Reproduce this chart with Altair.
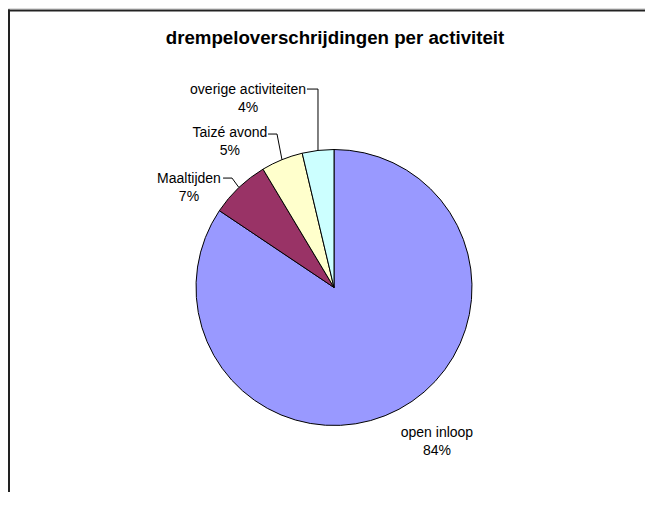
import math
import altair as alt
import pandas as pd

# ---------------- data ----------------
categories = ["open inloop", "Maaltijden", "Taizé avond", "overige activiteiten"]
shares = [84.4, 7.0, 4.9, 3.7]          # percent of threshold exceedances
colors = ["#9999FF", "#993366", "#FFFFCC", "#CCFFFF"]
title_text = "drempeloverschrijdingen per activiteit"

# ---------------- layout (not data) ----------------
W, H = 637, 484          # view size in px
R = 138                  # pie radius in px
CX, CY = 326, 279.5      # pie centre inside the view, px
FONT = "Liberation Sans"

# label block centres, in pie-radius units relative to the centre (y up)
label_pos = [(0.746, -1.054), (-1.051, 0.786), (-0.754, 1.116), (-0.623, 1.428)]
# leader lines: (end of horizontal stub x, elbow x or None for vertical, elbow y)
leaders = [None, (-0.804, -0.739, 0.793), (-0.478, -0.413, 1.112), (-0.196, None, 1.438)]

xs = alt.Scale(domain=[-CX / R, (W - CX) / R], nice=False, zero=False)
ys = alt.Scale(domain=[-(H - CY) / R, CY / R], nice=False, zero=False)

total = sum(shares)
pie_df = pd.DataFrame({"category": categories, "share": shares,
                       "order": list(range(len(categories)))})

label_rows, line_rows = [], []
cum = 0.0
for i, (cat, v) in enumerate(zip(categories, shares)):
    mid = (cum + v / 2) / total * 2 * math.pi
    cum += v
    ax, ay = math.sin(mid), math.cos(mid)
    lx, ly = label_pos[i]
    label_rows.append({"category": cat, "x": lx, "y": ly,
                       "label": f"{cat}\n{round(v / total * 100)}%"})
    if leaders[i] is not None:
        ex, bx, by = leaders[i]
        if bx is None:
            bx = ax
        for k, (px, py) in enumerate([(ex, by), (bx, by), (ax, ay)]):
            line_rows.append({"category": cat, "k": k, "x": px, "y": py})

label_df = pd.DataFrame(label_rows)
line_df = pd.DataFrame(line_rows)
one = pd.DataFrame({"t": [title_text]})

arc = alt.Chart(pie_df).mark_arc(radius=R, stroke="black", strokeWidth=1).encode(
    theta=alt.Theta("share:Q", stack=True),
    order=alt.Order("order:Q"),
    color=alt.Color("category:N", scale=alt.Scale(domain=categories, range=colors), legend=None),
    x=alt.XDatum(0.0, type="quantitative", scale=xs, axis=None),
    y=alt.YDatum(0.0, type="quantitative", scale=ys, axis=None),
)

lines = alt.Chart(line_df).mark_line(color="black", strokeWidth=1).encode(
    x=alt.X("x:Q", scale=xs, axis=None),
    y=alt.Y("y:Q", scale=ys, axis=None),
    detail="category:N",
    order="k:Q",
)

labels = alt.Chart(label_df).mark_text(
    font=FONT, fontSize=14, color="black", align="center", baseline="middle",
    lineBreak="\n", lineHeight=18,
).encode(
    x=alt.X("x:Q", scale=xs, axis=None),
    y=alt.Y("y:Q", scale=ys, axis=None),
    text="label:N",
)

title = alt.Chart(one).mark_text(
    font=FONT, fontSize=18.7, fontWeight="bold", color="black",
    align="center", baseline="alphabetic",
).encode(text="t:N", x=alt.value(327), y=alt.value(36))

border_top = alt.Chart(one).mark_rule(color="#222222", strokeWidth=2).encode(
    x=alt.value(0), x2=alt.value(W), y=alt.value(2.5))
border_left = alt.Chart(one).mark_rule(color="#222222", strokeWidth=2).encode(
    x=alt.value(1), y=alt.value(1.5), y2=alt.value(H))

chart = alt.layer(border_top, border_left, arc, lines, labels, title).properties(
    width=W, height=H, padding=0,
    autosize=alt.AutoSizeParams(type="none"),
).configure_view(strokeWidth=0).configure(background="white")

chart.save("out.html", embed_options={"renderer": "svg", "actions": False})
